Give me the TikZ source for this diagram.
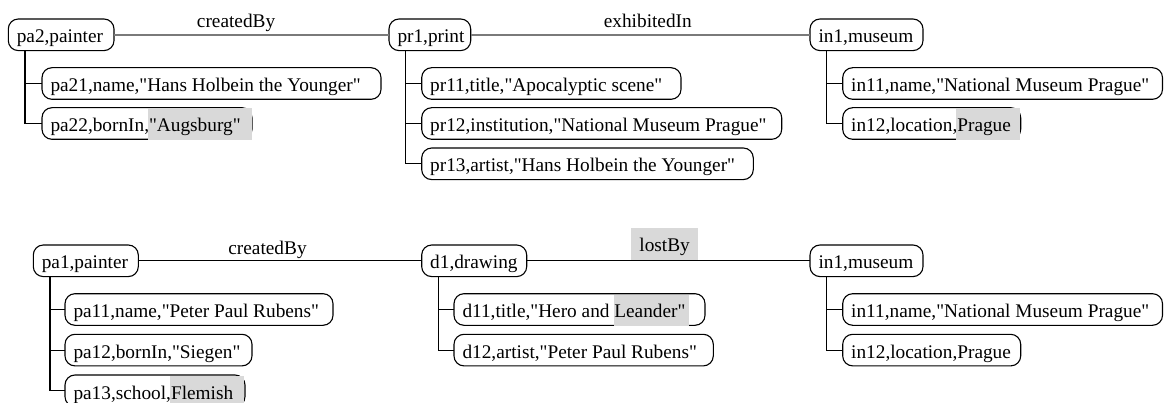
\documentclass[tikz,border=0pt]{standalone}
\usepackage{fontspec}
\setmainfont{Liberation Serif}[Ligatures=TeXOff]
\usetikzlibrary{calc}

\definecolor{hlgray}{HTML}{D9D9D9}
\definecolor{linkgray}{HTML}{7A7A7A}

% widths of the text before a highlighted word
\newlength\prefA
\newlength\prefB
\newlength\prefC
\newlength\prefD

% left-aligned cell text for a box of the given total width (pt)
\newcommand\cell[2]{\makebox[\dimexpr#1pt-17pt\relax][l]{#2}}

\begin{document}
\fontsize{19.3pt}{23pt}\selectfont
\settowidth{\prefA}{pa22,bornIn,}
\settowidth{\prefB}{in12,location,}
\settowidth{\prefC}{pa13,school,}
\settowidth{\prefD}{d11,title,"Hero and }
\begin{tikzpicture}[x=1pt,y=-1pt,
  box/.style={draw=black, line width=1.1pt, rounded corners=10pt,
    inner xsep=8.5pt, inner ysep=0pt, outer sep=0pt,
    text height=24pt, text depth=7.6pt, anchor=north west},
  word/.style={anchor=base west, inner sep=0pt, outer sep=0pt},
  toplink/.style={draw=linkgray, line width=2.2pt},
  botlink/.style={draw=black, line width=1.1pt},
  tree/.style={draw=black, line width=1.1pt},
  elabel/.style={anchor=base, inner sep=0pt},
  hlbox/.style={fill=hlgray, anchor=south, inner xsep=8pt, inner ysep=0pt,
    text height=23.3pt, text depth=8.7pt}]
\useasboundingbox (0,0) rectangle (1164,403);
\clip (0,0) rectangle (1164,403);

% ---------- upper graph ----------
\node[box] (pa2) at (8.3,19) {\cell{105.7}{pa2,painter}};
\node[box] (pr1) at (389,19) {\cell{81.7}{pr1,print}};
\node[box] (in1) at (810,19) {\cell{113}{in1,museum}};

\node[box] (pa21) at (42,67.7) {\cell{339}{pa21,name,"Hans Holbein the Younger"}};
\node[box] (pa22) at (42,107.7) {\cell{210}{pa22,bornIn,\phantom{"Augsburg"}}};

\node[box] (pr11) at (421.7,67.7) {\cell{259.3}{pr11,title,"Apocalyptic scene"}};
\node[box] (pr12) at (421.7,107.7) {\cell{360}{pr12,institution,"National Museum Prague"}};
\node[box] (pr13) at (421.7,148) {\cell{331.6}{pr13,artist,"Hans Holbein the Younger"}};

\node[box] (in11) at (842.7,67.7) {\cell{319.8}{in11,name,"National Museum Prague"}};
\node[box] (in12) at (842.7,107.7) {\cell{178}{in12,location,\phantom{Prague}}};

\draw[toplink] (pa2) -- node[elabel, pos=0.444, yshift=7.6pt] (lcb1) {createdBy} (pr1);
\draw[toplink] (pr1) -- node[elabel, pos=0.522, yshift=7.6pt] (lex1) {exhibitedIn} (in1);

\coordinate (pa2t) at ([xshift=16.7pt]pa2.south west);
\draw[tree] (pa21.west) -| (pa2t) (pa22.west) -| (pa2t);
\coordinate (pr1t) at ([xshift=16.7pt]pr1.south west);
\draw[tree] (pr11.west) -| (pr1t) (pr12.west) -| (pr1t) (pr13.west) -| (pr1t);
\coordinate (in1t) at ([xshift=16.7pt]in1.south west);
\draw[tree] (in11.west) -| (in1t) (in12.west) -| (in1t);

% highlighted values
\coordinate (pa22s) at ([xshift=8.5pt+\prefA]pa22.base west);
\fill[hlgray] ($(pa22s |- pa22.north)+(-1.5,0.8)$) rectangle ($(pa22.south east)+(-0.4,1)$);
\node[word] (pa22v) at (pa22s) {"Augsburg"};

\coordinate (in12s) at ([xshift=8.5pt+\prefB]in12.base west);
\fill[hlgray] ($(in12s |- in12.north)+(-1.5,0.8)$) rectangle ($(in12.south east)+(-0.4,1)$);
\node[word] (in12v) at (in12s) {Prague};

% ---------- lower graph ----------
\node[box] (pa1) at (33.3,245) {\cell{105}{pa1,painter}};
\node[box] (d1) at (421.7,245) {\cell{105}{d1,drawing}};
\node[box] (in1b) at (810,245) {\cell{113}{in1,museum}};

\node[box] (pa11) at (65,293.7) {\cell{268}{pa11,name,"Peter Paul Rubens"}};
\node[box] (pa12) at (65,334.3) {\cell{187}{pa12,bornIn,"Siegen"}};
\node[box] (pa13) at (65,375) {\cell{180}{pa13,school,\phantom{Flemish}}};

\node[box] (d11) at (454,293.7) {\cell{251}{d11,title,"Hero and \phantom{Leander"}}};
\node[box] (d12) at (454,334.3) {\cell{259.3}{d12,artist,"Peter Paul Rubens"}};

\node[box] (in11b) at (842.7,293.7) {\cell{319.8}{in11,name,"National Museum Prague"}};
\node[box] (in12b) at (842.7,334.3) {\cell{178}{in12,location,Prague}};

\draw[botlink] (pa1) -- node[elabel, pos=0.456, yshift=6pt] (lcb2) {createdBy} (d1);
\draw[botlink] (d1) -- node[hlbox, pos=0.487] (llost) {lostBy} (in1b);

\coordinate (pa1t) at ([xshift=16.7pt]pa1.south west);
\draw[tree] (pa11.west) -| (pa1t) (pa12.west) -| (pa1t) (pa13.west) -| (pa1t);
\coordinate (d1t) at ([xshift=16.7pt]d1.south west);
\draw[tree] (d11.west) -| (d1t) (d12.west) -| (d1t);
\coordinate (in1bt) at ([xshift=16.7pt]in1b.south west);
\draw[tree] (in11b.west) -| (in1bt) (in12b.west) -| (in1bt);

\coordinate (pa13s) at ([xshift=8.5pt+\prefC]pa13.base west);
\fill[hlgray] ($(pa13s |- pa13.north)+(-1.5,0.8)$) rectangle ($(pa13.south east)+(-0.6,1)$);
\node[word] (pa13v) at (pa13s) {Flemish};

\coordinate (d11s) at ([xshift=8.5pt+\prefD]d11.base west);
\fill[hlgray] ($(d11s |- d11.north)+(-0.7,0.8)$) rectangle ($(d11.south east)+(-16,1)$);
\node[word] (d11v) at (d11s) {Leander"};
\end{tikzpicture}
\end{document}
